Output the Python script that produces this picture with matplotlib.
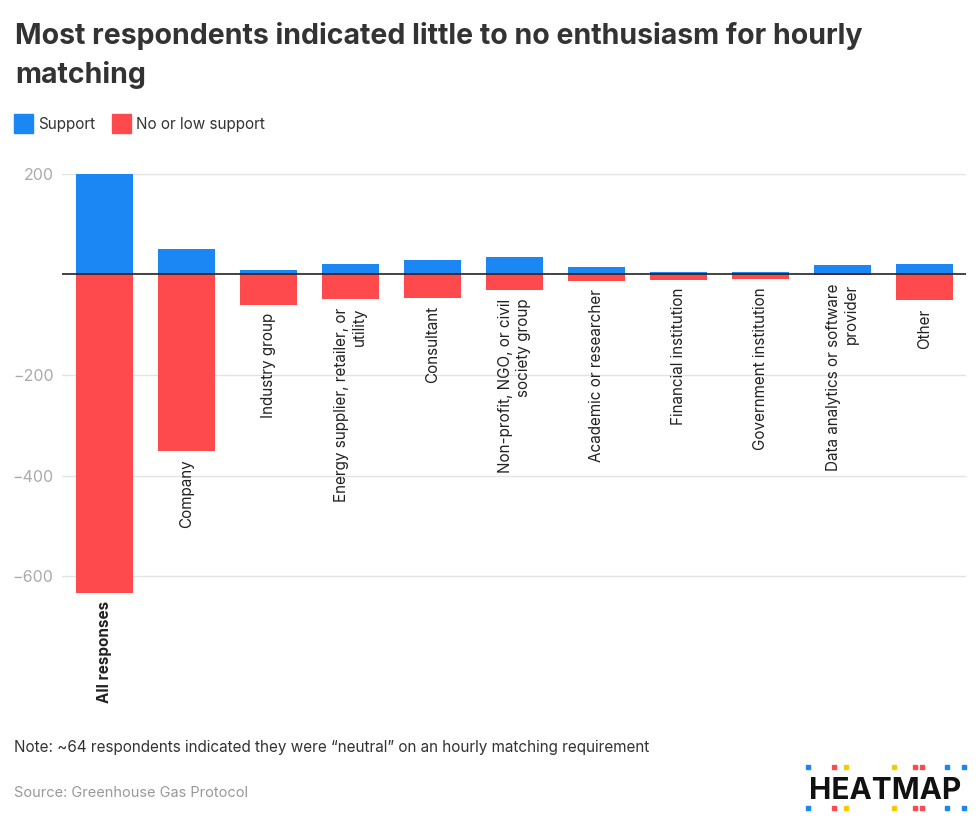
import matplotlib.pyplot as plt
from matplotlib.patches import Rectangle

# ------ datos ------
categorias = ["All responses", "Company", "Industry group",
              "Energy supplier, retailer, or\nutility", "Consultant",
              "Non-profit, NGO, or civil\nsociety group", "Academic or researcher",
              "Financial institution", "Government institution",
              "Data analytics or software\nprovider", "Other"]
apoyo = [200, 50, 9, 20, 28, 34, 14, 5, 4, 18, 20]
sin_apoyo = [-634, -351, -61, -50, -47, -32, -13, -11, -9, -2, -52]
yticks = [200, 0, -200, -400, -600]
ytick_labels = ["200", "", "\u2212200", "\u2212400", "\u2212600"]

AZUL = "#1b87f4"
ROJO = "#ff4a4d"
AMARILLO = "#f2cc00"
FUENTE = ["Inter", "DejaVu Sans"]

plt.rcParams['font.family'] = FUENTE

fig = plt.figure(figsize=(9.8, 8.32), dpi=100)
ax = fig.add_axes([0.0633, 0.2773, 0.9224, 0.5139])

x = range(len(categorias))
ax.bar(x, apoyo, width=0.695, color=AZUL, zorder=2)
ax.bar(x, sin_apoyo, width=0.695, color=ROJO, zorder=2)
ax.axhline(0, color="#222222", linewidth=1.2, zorder=3)

ax.set_xlim(-0.52, 10.51)
ax.set_ylim(-650, 200)
ax.set_yticks(yticks)
ax.set_yticklabels(ytick_labels, color="#aaaaaa", fontsize=11.5)
ax.set_xticks([])
ax.tick_params(axis='y', length=0, pad=6)
for v in yticks:
    if v != 0:
        ax.axhline(v, color="#e3e3e3", linewidth=1, zorder=1)
for s in ax.spines.values():
    s.set_visible(False)

# etiquetas debajo de cada barra
for i, cat in enumerate(categorias):
    base = min(sin_apoyo[i], 0)
    ax.annotate(cat, xy=(i, base), xytext=(0, -5.8), textcoords='offset points',
                rotation=90, ha='center', va='top', multialignment='right',
                fontsize=11, color="#222222",
                fontweight='bold' if i == 0 else 'normal', annotation_clip=False)

# titulo y leyenda
fig.text(15 / 980, 1 - 44 / 832, "Most respondents indicated little to no enthusiasm for hourly",
         fontsize=20.5, fontweight='bold', color="#333333", va='baseline')
fig.text(15 / 980, 1 - 83 / 832, "matching",
         fontsize=20.5, fontweight='bold', color="#333333", va='baseline')
fig.patches.append(Rectangle((14 / 980, 1 - 133 / 832), 19 / 980, 19 / 832,
                             transform=fig.transFigure, color=AZUL))
fig.text(38 / 980, 1 - 129 / 832, "Support", fontsize=11, color="#333333", va='baseline')
fig.patches.append(Rectangle((112 / 980, 1 - 133 / 832), 19 / 980, 19 / 832,
                             transform=fig.transFigure, color=ROJO))
fig.text(136 / 980, 1 - 129 / 832, "No or low support", fontsize=11, color="#333333", va='baseline')

# notas
fig.text(14 / 980, 1 - 752 / 832,
         "Note: ~64 respondents indicated they were \u201cneutral\u201d on an hourly matching requirement",
         fontsize=11, color="#333333", va='baseline')
fig.text(14 / 980, 1 - 797 / 832, "Source: Greenhouse Gas Protocol",
         fontsize=10.5, color="#999999", va='baseline')

# logo
fig.text(885 / 980, 1 - 799 / 832, "HEATMAP", fontsize=21.5, fontweight='bold',
         color="#111111", ha='center', va='baseline')
colores_logo = [AZUL, ROJO, AMARILLO, AMARILLO, ROJO, ROJO, AZUL, AZUL]
xs_logo = [806, 832, 844, 892, 913, 920, 945, 962]
for xl, c in zip(xs_logo, colores_logo):
    for yl in (765, 806):
        fig.patches.append(Rectangle((xl / 980, 1 - (yl + 4) / 832), 4 / 980, 4 / 832,
                                     transform=fig.transFigure, color=c))

fig.savefig("out.png", dpi=100)
